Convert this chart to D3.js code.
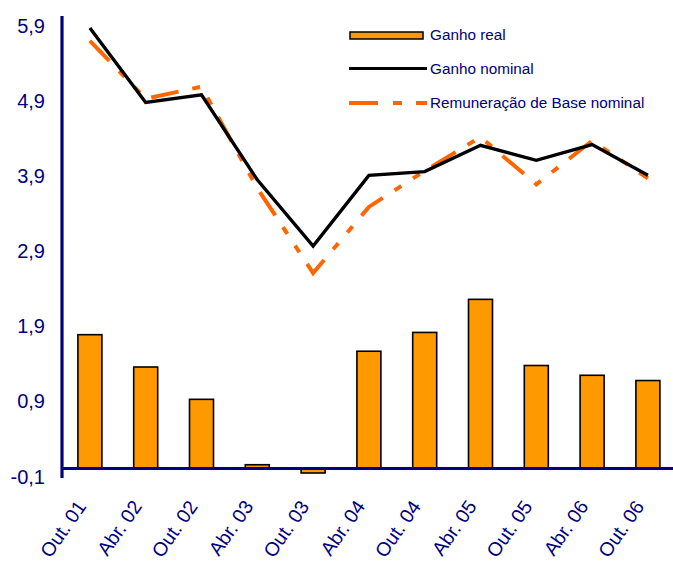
<!DOCTYPE html>
<html><head><meta charset="utf-8">
<script src="https://cdn.jsdelivr.net/npm/d3@7"></script>
<style>body{margin:0;background:#fff}svg{display:block}text{font-family:"Liberation Sans",Arial,sans-serif}</style>
</head><body>
<script>
const categories = ["Out. 01","Abr. 02","Out. 02","Abr. 03","Out. 03","Abr. 04","Out. 04","Abr. 05","Out. 05","Abr. 06","Out. 06"];
const ganhoReal = [1.78,1.35,0.92,0.05,-0.06,1.56,1.81,2.25,1.37,1.24,1.17];
const ganhoNominal = [5.86,4.87,4.97,3.84,2.96,3.90,3.95,4.30,4.10,4.31,3.90];
const remuneracaoBase = [5.69,4.92,5.08,3.73,2.60,3.48,3.96,4.41,3.78,4.36,3.86];
const yTicks = [-0.1,0.9,1.9,2.9,3.9,4.9,5.9];
const seriesNames = ["Ganho real","Ganho nominal","Remuneração de Base nominal"];

const W=673,H=561, navy="#000080";
const svg=d3.select("body").append("svg").attr("width",W).attr("height",H);
const x=d3.scaleBand().domain(categories).range([62,62+11*55.8]).paddingInner(0.57).paddingOuter(0.285);
const y=d3.scaleLinear().domain([-0.1,5.9]).range([476,25]);
const fmt=d=>d3.format(".1f")(d).replace(".",",").replace("−","-");

// bars
svg.append("g").selectAll("rect").data(ganhoReal).join("rect")
 .attr("x",(d,i)=>x(categories[i])).attr("width",x.bandwidth())
 .attr("y",d=>y(Math.max(0,d))).attr("height",d=>Math.abs(y(d)-y(0)))
 .attr("fill","#FF9900").attr("stroke","#000").attr("stroke-width",1.6);

// axes
const yAxis=d3.axisLeft(y).tickValues(yTicks).tickSize(0).tickFormat(fmt);
const ga=svg.append("g").attr("transform","translate(62,0)").call(yAxis);
ga.select(".domain").remove();
ga.selectAll("text").attr("x",-17).attr("dy","0.35em").attr("font-size",20).attr("fill",navy);
svg.append("line").attr("x1",62).attr("x2",62).attr("y1",16).attr("y2",478).attr("stroke",navy).attr("stroke-width",3.2);
svg.append("line").attr("x1",61).attr("x2",W).attr("y1",y(0)).attr("y2",y(0)).attr("stroke",navy).attr("stroke-width",3.2);

const xAxis=d3.axisBottom(x).tickSize(0);
const gx=svg.append("g").attr("transform",`translate(0,${y(0)})`).call(xAxis);
gx.select(".domain").remove();
gx.selectAll("text").attr("font-size",19.5).attr("fill",navy)
 .attr("text-anchor","end").attr("y",0).attr("dy",0)
 .attr("transform","translate(-3,38) rotate(-55)");

// lines
const line=d3.line().x((d,i)=>x(categories[i])+x.bandwidth()/2).y(d=>y(d));
const dash="28,14,8,14,8,14";
svg.append("path").datum(remuneracaoBase).attr("d",line).attr("fill","none")
 .attr("stroke","#FF6600").attr("stroke-width",4).attr("stroke-dasharray",dash);
svg.append("path").datum(ganhoNominal).attr("d",line).attr("fill","none")
 .attr("stroke","#000").attr("stroke-width",3.4).attr("stroke-linejoin","miter");

// legend
const lg=svg.append("g");
lg.append("rect").attr("x",350).attr("y",32).attr("width",73).attr("height",7).attr("fill","#FF9900").attr("stroke","#000").attr("stroke-width",1.5);
lg.append("line").attr("x1",349).attr("x2",427).attr("y1",68.5).attr("y2",68.5).attr("stroke","#000").attr("stroke-width",3.2);
lg.append("line").attr("x1",349).attr("x2",427).attr("y1",103).attr("y2",103).attr("stroke","#FF6600").attr("stroke-width",4).attr("stroke-dasharray","29,15,9,14,11");
[35,68.5,102.5].forEach((yy,i)=>{
 lg.append("text").attr("x",430).attr("y",yy).attr("dy","0.35em").attr("font-size",15.3).attr("fill",navy).text(seriesNames[i]);
});
</script>
</body></html>
